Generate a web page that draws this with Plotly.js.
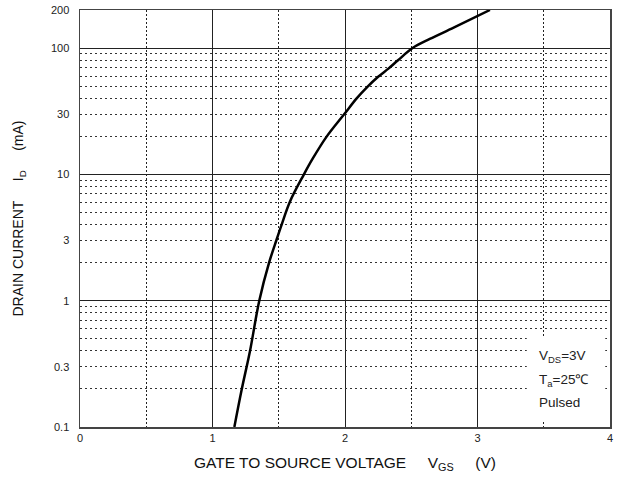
<!DOCTYPE html>
<html>
<head>
<meta charset="utf-8">
<script src="https://cdn.plot.ly/plotly-3.0.1.min.js"></script>
<style>html,body{margin:0;padding:0;background:#fff;}#chart{width:623px;height:479px;}</style>
</head>
<body>
<div id="chart"></div>
<script>
// Data
const vgs = [1.165, 1.22, 1.283, 1.353, 1.427, 1.484, 1.522, 1.585, 1.69, 1.756, 1.86, 1.995, 2.088, 2.169, 2.25, 2.33, 2.40, 2.51, 2.64, 2.82, 3.094];
const idMa = [0.1, 0.197, 0.40, 1.0, 2.0, 3.05, 4.0, 6.1, 10, 13.3, 19.8, 30, 39.9, 49.3, 59.2, 69, 80, 100, 118, 145, 200];

const yTickVals = [0.1, 0.3, 1, 3, 10, 30, 100, 200];
const yTickText = ['0.1', '0.3', '1', '3', '10', '30', '100', '200'];
const yDecades = [1, 10, 100];
const yMinorVals = [0.2, 0.3, 0.4, 0.5, 0.6, 0.7, 0.8, 0.9, 2, 3, 4, 5, 6, 7, 8, 9, 20, 30, 40, 50, 60, 70, 80, 90];
const xTickVals = [0, 1, 2, 3, 4];

const conditions = ['V<sub>DS</sub>=3V', 'T<sub>a</sub>=25\u2103', 'Pulsed'];

const FONT = 'Arial, Liberation Sans, sans-serif';
const tickFont = {family: FONT, size: 11, color: '#222'};
const yRange = [Math.log10(0.1), Math.log10(200)];

const curve = {
  x: vgs, y: idMa, xaxis: 'x', yaxis: 'y3',
  type: 'scatter', mode: 'lines',
  line: {color: '#000', width: 2.5, shape: 'spline', smoothing: 1},
  hoverinfo: 'skip', showlegend: false
};
// carriers so every overlaid axis has a subplot (drawn invisible)
const carrierY = {x: vgs, y: idMa, xaxis: 'x', yaxis: 'y', type: 'scatter', mode: 'lines', line: {width: 0}, opacity: 0, hoverinfo: 'skip', showlegend: false};
const carrierY2 = {x: vgs, y: idMa, xaxis: 'x', yaxis: 'y2', type: 'scatter', mode: 'lines', line: {width: 0}, opacity: 0, hoverinfo: 'skip', showlegend: false};

const sp = '\u00a0\u00a0\u00a0\u00a0\u00a0';
const gridDotX = {showgrid: true, gridcolor: '#222', gridwidth: 1, griddash: '2px,2px'};
const gridDotY = {showgrid: true, gridcolor: '#333', gridwidth: 1, griddash: '2px,3px'};
const layout = {
  width: 623, height: 479,
  margin: {l: 80, r: 13, t: 10, b: 52},
  paper_bgcolor: '#fff', plot_bgcolor: '#fff',
  showlegend: false,
  xaxis: {
    range: [0, 4], tickvals: xTickVals, ticktext: xTickVals.map(String),
    showgrid: true, gridcolor: '#222', gridwidth: 1, zeroline: false,
    showline: true, linecolor: '#444', linewidth: 1.5, mirror: true,
    ticks: '', tickfont: tickFont,
    minor: Object.assign({dtick: 0.5, tick0: 0, ticks: ''}, gridDotX),
    title: {text: 'GATE TO SOURCE VOLTAGE' + sp + 'V<sub>GS</sub>' + sp + '(V)', font: {family: FONT, size: 15.5, color: '#111'}, standoff: 14}
  },
  yaxis: {
    type: 'log', range: yRange,
    tickmode: 'array', tickvals: yTickVals, ticktext: yTickText,
    showgrid: false, zeroline: false,
    showline: true, linecolor: '#444', linewidth: 1.5, mirror: true,
    ticks: 'outside', ticklen: 7, tickcolor: 'rgba(0,0,0,0)', tickfont: tickFont,
    title: {text: 'DRAIN CURRENT' + sp + 'I<sub>D</sub>' + sp + '(mA)', font: {family: FONT, size: 14, color: '#111'}, standoff: 24}
  },
  yaxis2: Object.assign({
    type: 'log', range: yRange, overlaying: 'y', side: 'left',
    tickmode: 'array', tickvals: yMinorVals,
    showticklabels: false, ticks: '', zeroline: false, showline: false
  }, gridDotY),
  yaxis3: {
    type: 'log', range: yRange, overlaying: 'y', side: 'left',
    tickmode: 'array', tickvals: yDecades,
    showgrid: true, gridcolor: '#222', gridwidth: 1,
    showticklabels: false, ticks: '', zeroline: false, showline: false
  },
  shapes: [{
    type: 'rect', xref: 'paper', yref: 'paper', layer: 'above',
    x0: 0.843, x1: 0.991, y0: 0.014, y1: 0.218,
    fillcolor: '#fff', line: {width: 0}
  }],
  annotations: conditions.map((t, i) => ({
    text: t, xref: 'paper', yref: 'paper',
    x: 0.862, y: [0.168, 0.112, 0.058][i],
    xanchor: 'left', yanchor: 'middle', showarrow: false,
    font: {family: FONT, size: 13.5, color: '#222'}
  }))
};

Plotly.newPlot('chart', [carrierY, carrierY2, curve], layout, {displayModeBar: false, staticPlot: true});
</script>
</body>
</html>
